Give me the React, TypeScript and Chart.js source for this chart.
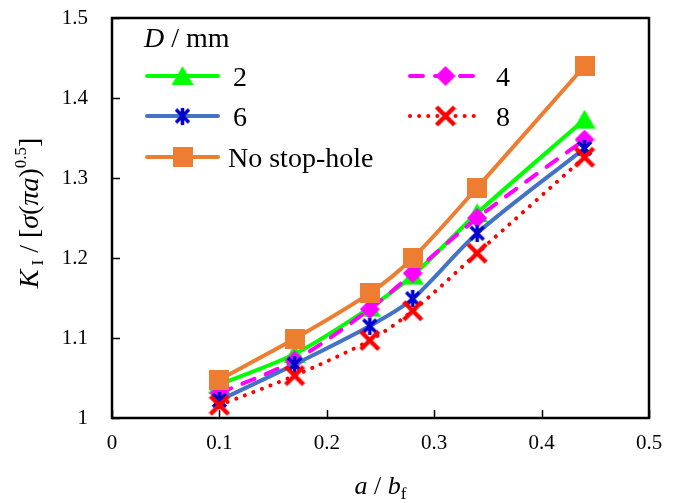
import React, { useEffect, useRef } from 'react';
import { Chart, registerables } from 'chart.js';

Chart.register(...registerables);

// ---- data ----
const xValues = [0.1, 0.17, 0.24, 0.28, 0.34, 0.44];
const seriesD2 = [1.042, 1.08, 1.138, 1.178, 1.256, 1.373];
const seriesD4 = [1.031, 1.072, 1.136, 1.181, 1.25, 1.348];
const seriesD6 = [1.022, 1.067, 1.115, 1.149, 1.231, 1.337];
const seriesD8 = [1.016, 1.053, 1.097, 1.134, 1.206, 1.326];
const seriesNoHole = [1.048, 1.099, 1.156, 1.2, 1.288, 1.44];
const seriesLabels = ['2', '4', '6', '8', 'No stop-hole'];
const xTickLabels = ['0', '0.1', '0.2', '0.3', '0.4', '0.5'];
const yTickLabels = ['1', '1.1', '1.2', '1.3', '1.4', '1.5'];

const SERIF = '"Liberation Serif", "Times New Roman", serif';

const GREEN = '#00ff00';
const MAGENTA = '#ff00ff';
const BLUE_LINE = '#4472c4';
const BLUE_MARK = '#0000cc';
const RED = '#ff0000';
const ORANGE = '#ed7d31';

function mk(w: number, h: number, draw: (c: CanvasRenderingContext2D) => void) {
  const c = document.createElement('canvas');
  c.width = w;
  c.height = h;
  const ctx = c.getContext('2d')!;
  draw(ctx);
  return c;
}

function makeMarkers() {
  const square = mk(20, 20, (c) => {
    c.fillStyle = ORANGE;
    c.fillRect(0, 0, 20, 20);
  });
  const triangle = mk(22, 20, (c) => {
    c.fillStyle = GREEN;
    c.beginPath();
    c.moveTo(11, 0);
    c.lineTo(22, 19);
    c.lineTo(0, 19);
    c.closePath();
    c.fill();
  });
  const diamond = mk(20, 20, (c) => {
    c.fillStyle = MAGENTA;
    c.beginPath();
    c.moveTo(10, 0);
    c.lineTo(20, 10);
    c.lineTo(10, 20);
    c.lineTo(0, 10);
    c.closePath();
    c.fill();
  });
  const star = mk(17, 17, (c) => {
    c.strokeStyle = BLUE_MARK;
    c.lineWidth = 3.5;
    c.beginPath();
    c.moveTo(2, 2);
    c.lineTo(15, 15);
    c.moveTo(15, 2);
    c.lineTo(2, 15);
    c.moveTo(8.5, 0);
    c.lineTo(8.5, 17);
    c.stroke();
  });
  const cross = mk(22, 22, (c) => {
    c.strokeStyle = RED;
    c.lineWidth = 4.5;
    c.beginPath();
    c.moveTo(2, 2);
    c.lineTo(20, 20);
    c.moveTo(20, 2);
    c.lineTo(2, 20);
    c.stroke();
  });
  return { square, triangle, diamond, star, cross };
}

type Run = { text: string; font: string; dy?: number };

function drawRuns(ctx: CanvasRenderingContext2D, runs: Run[], x: number, y: number, center: boolean) {
  let total = 0;
  runs.forEach((r) => {
    ctx.font = r.font;
    total += ctx.measureText(r.text).width;
  });
  let cx = center ? x - total / 2 : x;
  runs.forEach((r) => {
    ctx.font = r.font;
    ctx.fillText(r.text, cx, y + (r.dy || 0));
    cx += ctx.measureText(r.text).width;
  });
}

export default function App() {
  const ref = useRef<HTMLCanvasElement | null>(null);

  useEffect(() => {
    if (!ref.current) return;
    const M = makeMarkers();

    const styles = [
      { data: seriesD2, color: GREEN, dash: [] as number[], cap: 'round', marker: M.triangle, order: 4 },
      { data: seriesD4, color: MAGENTA, dash: [13, 12], cap: 'round', marker: M.diamond, order: 3 },
      { data: seriesD6, color: BLUE_LINE, dash: [] as number[], cap: 'round', marker: M.star, order: 2 },
      { data: seriesD8, color: RED, dash: [0.1, 9], cap: 'round', marker: M.cross, order: 1 },
      { data: seriesNoHole, color: ORANGE, dash: [] as number[], cap: 'round', marker: M.square, order: 0 },
    ];

    const datasets = styles.map((s, i) => ({
      label: seriesLabels[i],
      data: s.data.map((v, j) => ({ x: xValues[j], y: v })),
      borderColor: s.color,
      backgroundColor: s.color,
      borderWidth: 4,
      borderDash: s.dash,
      borderCapStyle: s.cap as CanvasLineCap,
      borderJoinStyle: 'round' as CanvasLineJoin,
      tension: 0.3,
      pointStyle: s.marker,
      pointRadius: 10,
      pointHoverRadius: 10,
      order: s.order,
      fill: false,
    }));

    const legendItems = [
      { col: 0, row: 0, idx: 0 },
      { col: 1, row: 0, idx: 1 },
      { col: 0, row: 1, idx: 2 },
      { col: 1, row: 1, idx: 3 },
      { col: 0, row: 2, idx: 4 },
    ];

    const decor = {
      id: 'decor',
      afterDraw(chart: any) {
        const { ctx, chartArea: a, scales } = chart;
        ctx.save();
        // frame
        ctx.strokeStyle = '#000';
        ctx.lineWidth = 2.5;
        ctx.strokeRect(a.left, a.top, a.right - a.left, a.bottom - a.top);
        // inside ticks
        ctx.lineWidth = 1.5;
        scales.x.ticks.forEach((t: any) => {
          const px = Math.round(scales.x.getPixelForValue(t.value)) + 0.5;
          ctx.beginPath();
          ctx.moveTo(px, a.bottom);
          ctx.lineTo(px, a.bottom - 8);
          ctx.stroke();
        });
        scales.y.ticks.forEach((t: any) => {
          const py = Math.round(scales.y.getPixelForValue(t.value)) + 0.5;
          ctx.beginPath();
          ctx.moveTo(a.left, py);
          ctx.lineTo(a.left + 8, py);
          ctx.stroke();
        });

        ctx.fillStyle = '#000';
        ctx.textBaseline = 'alphabetic';
        ctx.textAlign = 'left';

        // legend title
        drawRuns(
          ctx,
          [
            { text: 'D', font: `italic 28px ${SERIF}` },
            { text: ' / mm', font: `28px ${SERIF}` },
          ],
          a.left + 32,
          a.top + 29,
          false
        );

        // legend entries
        const colX = [a.left + 33, a.left + 296];
        const sampleW = 75;
        const rowY = [a.top + 58, a.top + 98, a.top + 139];
        legendItems.forEach((it) => {
          const s = styles[it.idx];
          const x0 = colX[it.col];
          const y = rowY[it.row];
          ctx.save();
          ctx.strokeStyle = s.color;
          ctx.lineWidth = 4;
          ctx.lineCap = s.cap as CanvasLineCap;
          ctx.setLineDash(s.dash);
          ctx.beginPath();
          ctx.moveTo(x0 + 2, y);
          ctx.lineTo(x0 + sampleW - 2, y);
          ctx.stroke();
          ctx.restore();
          const mkr = s.marker;
          ctx.drawImage(mkr, x0 + sampleW / 2 - mkr.width / 2, y - mkr.height / 2);
          ctx.fillStyle = '#000';
          ctx.font = `28px ${SERIF}`;
          ctx.fillText(seriesLabels[it.idx], x0 + sampleW + (it.idx === 4 ? 8 : 13), y + 10);
        });

        // x axis title
        drawRuns(
          ctx,
          [
            { text: 'a', font: `italic 26px ${SERIF}` },
            { text: ' / ', font: `26px ${SERIF}` },
            { text: 'b', font: `italic 26px ${SERIF}` },
            { text: 'f', font: `17px ${SERIF}`, dy: 5 },
          ],
          (a.left + a.right) / 2,
          a.bottom + 76,
          true
        );

        // y axis title (rotated)
        ctx.save();
        ctx.translate(38, (a.top + a.bottom) / 2 - 5);
        ctx.rotate(-Math.PI / 2);
        drawRuns(
          ctx,
          [
            { text: 'K', font: `italic 28px ${SERIF}` },
            { text: ' I', font: `17px ${SERIF}`, dy: 5 },
            { text: ' / [', font: `28px ${SERIF}` },
            { text: 'σ', font: `italic 28px ${SERIF}` },
            { text: '(', font: `28px ${SERIF}` },
            { text: 'πa', font: `italic 28px ${SERIF}` },
            { text: ')', font: `28px ${SERIF}` },
            { text: '0.5', font: `17px ${SERIF}`, dy: -12 },
            { text: ']', font: `28px ${SERIF}` },
          ],
          0,
          0,
          true
        );
        ctx.restore();
        ctx.restore();
      },
    };

    const chart = new Chart(ref.current, {
      type: 'line',
      data: { datasets: datasets as any },
      options: {
        responsive: false,
        animation: false,
        devicePixelRatio: 1,
        layout: { padding: { top: 18, right: 24, left: 0, bottom: 0 } },
        plugins: { legend: { display: false }, tooltip: { enabled: false } },
        scales: {
          x: {
            type: 'linear',
            min: 0,
            max: 0.5,
            grid: { display: false, drawTicks: false },
            border: { display: false },
            ticks: {
              stepSize: 0.1,
              color: '#000',
              padding: 13,
              maxRotation: 0,
              font: { family: SERIF, size: 21 },
              callback: (_v: any, i: number) => xTickLabels[i],
            },
            afterFit: (s: any) => {
              s.height = 85;
              s.paddingLeft = 0;
              s.paddingRight = 0;
            },
          },
          y: {
            type: 'linear',
            min: 1,
            max: 1.5,
            grid: { display: false, drawTicks: false },
            border: { display: false },
            ticks: {
              stepSize: 0.1,
              color: '#000',
              padding: 24,
              font: { family: SERIF, size: 21 },
              callback: (_v: any, i: number) => yTickLabels[i],
            },
            afterFit: (s: any) => {
              s.width = 112;
              s.paddingTop = 0;
              s.paddingBottom = 0;
            },
          },
        },
      },
      plugins: [decor],
    });

    return () => chart.destroy();
  }, []);

  return (
    <div style={{ position: 'fixed', left: 0, top: 0, width: 673, height: 503, background: '#fff' }}>
      <canvas ref={ref} width={673} height={503} />
    </div>
  );
}
